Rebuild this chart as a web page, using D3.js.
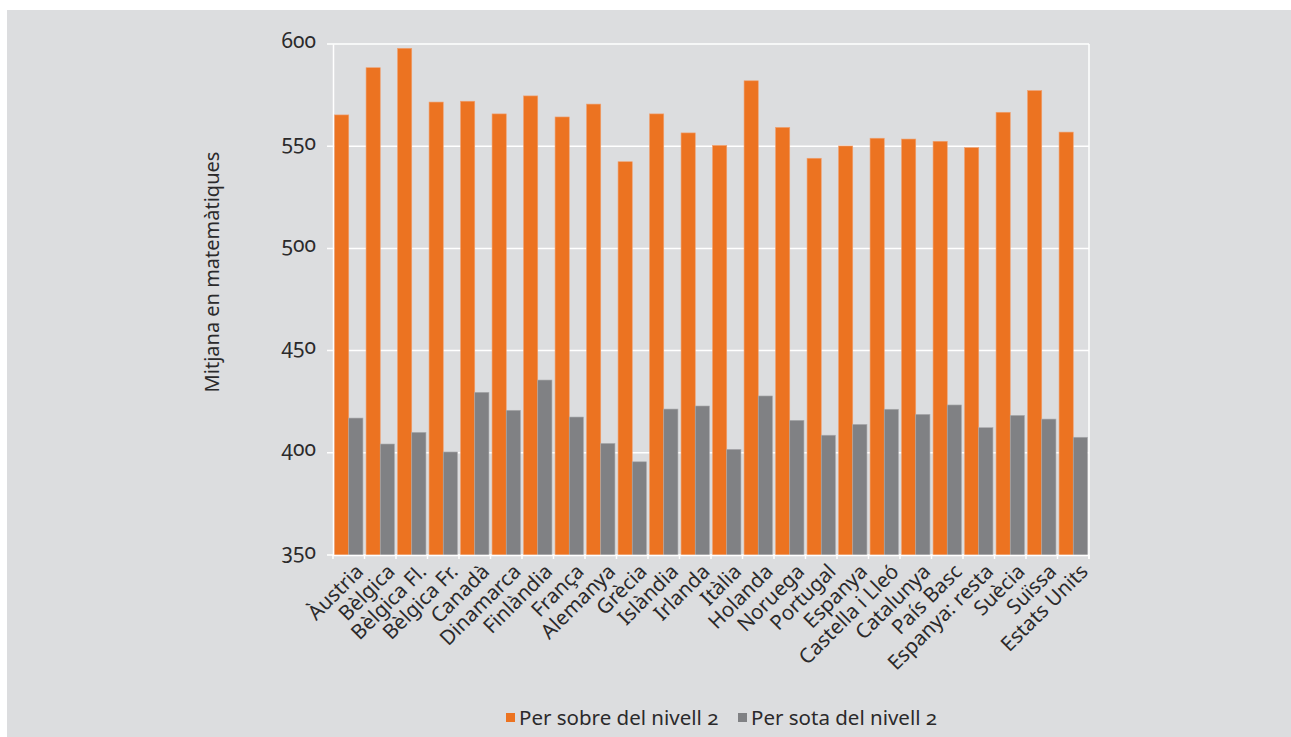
<!DOCTYPE html>
<html>
<head>
<meta charset="utf-8">
<script src="https://cdn.jsdelivr.net/npm/d3@7"></script>
<style>
  html, body { margin: 0; padding: 0; background: #fff; }
  svg text { font-family: "Noto Sans", "Open Sans", sans-serif; fill: #2b2a2b; font-feature-settings: "onum" 1; font-variant-numeric: oldstyle-nums; }
</style>
</head>
<body>
<svg id="chart" width="1291" height="737"></svg>
<script>
const categories = ["Àustria", "Bèlgica", "Bèlgica Fl.", "Bèlgica Fr.", "Canadà", "Dinamarca", "Finlàndia", "França", "Alemanya", "Grècia", "Islàndia", "Irlanda", "Itàlia", "Holanda", "Noruega", "Portugal", "Espanya", "Castella i Lleó", "Catalunya", "País Basc", "Espanya: resta", "Suècia", "Suïssa", "Estats Units"];
const above = [565.3, 588.4, 597.9, 571.6, 572.0, 565.8, 574.6, 564.3, 570.6, 542.4, 565.8, 556.5, 550.4, 582.0, 559.2, 544.1, 550.1, 553.9, 553.5, 552.4, 549.3, 566.6, 577.2, 556.9];
const below = [417.0, 404.3, 410.0, 400.4, 429.6, 420.8, 435.6, 417.5, 404.6, 395.6, 421.4, 422.9, 401.7, 427.8, 415.9, 408.6, 413.9, 421.3, 418.8, 423.4, 412.3, 418.3, 416.5, 407.6];
const seriesNames = ["Per sobre del nivell 2", "Per sota del nivell 2"];
const yTicks = [350, 400, 450, 500, 550, 600];
const colors = ["#ec7321", "#808184"];

const margin = { left: 333, right: 202, top: 44, bottom: 182 };
const width = 1291, height = 737;

const svg = d3.select("#chart");

// panel background
svg.append("rect")
  .attr("x", 7).attr("y", 10)
  .attr("width", width - 7).attr("height", height - 10)
  .attr("fill", "#dcdddf");

const x = d3.scaleBand()
  .domain(categories)
  .range([margin.left, width - margin.right])
  .paddingInner(0)
  .paddingOuter(0);

const xSub = d3.scaleBand()
  .domain([0, 1])
  .range([0, x.bandwidth()])
  .paddingOuter(0.11)
  .paddingInner(0);

const y = d3.scaleLinear()
  .domain([350, 600])
  .range([height - margin.bottom, margin.top]);

// gridlines
svg.append("g")
  .selectAll("line")
  .data(yTicks)
  .join("line")
  .attr("x1", margin.left - 6)
  .attr("x2", width - margin.right)
  .attr("y1", (d) => y(d))
  .attr("y2", (d) => y(d))
  .attr("stroke", "#ffffff")
  .attr("stroke-width", 1.5);

// right border
svg.append("line")
  .attr("x1", width - margin.right).attr("x2", width - margin.right)
  .attr("y1", y(600)).attr("y2", y(350) + 4)
  .attr("stroke", "#fff").attr("stroke-width", 1.5);

// y axis
const yAxis = svg.append("g")
  .attr("transform", "translate(" + margin.left + ",0)")
  .call(d3.axisLeft(y).tickValues(yTicks).tickSize(0).tickPadding(17));
yAxis.select(".domain").attr("stroke", "#fff").attr("stroke-width", 1.5);
yAxis.selectAll("text").style("font-size", "21px").attr("dy", "0.15em");

// bars
const groups = svg.append("g")
  .selectAll("g")
  .data(categories)
  .join("g")
  .attr("transform", (d) => "translate(" + x(d) + ",0)");

groups.selectAll("rect")
  .data((d, i) => [above[i], below[i]])
  .join("rect")
  .attr("x", (d, j) => xSub(j))
  .attr("width", xSub.bandwidth())
  .attr("y", (d) => y(d))
  .attr("height", (d) => y(350) - y(d))
  .attr("fill", (d, j) => colors[j])
  .attr("stroke", (d, j) => (j === 0 ? "#f0a070" : "#a9aaac"))
  .attr("stroke-width", 0.6);

// x axis
const xAxis = svg.append("g")
  .attr("transform", "translate(0," + y(350) + ")")
  .call(d3.axisBottom(x).tickSize(0).tickFormat(""));
xAxis.select(".domain").attr("stroke", "#fff").attr("stroke-width", 1.5);

// tick marks at band boundaries
svg.append("g")
  .selectAll("line")
  .data(categories.concat(["end"]))
  .join("line")
  .attr("x1", (d, i) => margin.left + i * x.bandwidth())
  .attr("x2", (d, i) => margin.left + i * x.bandwidth())
  .attr("y1", y(350))
  .attr("y2", y(350) + 4)
  .attr("stroke", "#fff")
  .attr("stroke-width", 1.5);

// rotated category labels
svg.append("g")
  .selectAll("text")
  .data(categories)
  .join("text")
  .attr("transform", (d) => "translate(" + (x(d) + x.bandwidth() / 2 + 5) + "," + (y(350) + 7) + ") rotate(-45)")
  .attr("text-anchor", "end")
  .attr("dy", "0.75em")
  .style("font-size", "20.5px")
  .text((d) => d);

// y axis title
svg.append("text")
  .attr("transform", "translate(219,272) rotate(-90)")
  .attr("text-anchor", "middle")
  .style("font-size", "20px")
  .text("Mitjana en matemàtiques");

// legend
const legend = svg.append("g").attr("transform", "translate(506,718)");
const legendX = [0, 232];
seriesNames.forEach((name, i) => {
  legend.append("rect")
    .attr("x", legendX[i]).attr("y", -5)
    .attr("width", 9).attr("height", 9)
    .attr("fill", colors[i]);
  legend.append("text")
    .attr("x", legendX[i] + 13).attr("y", 0)
    .attr("dy", "0.35em")
    .style("font-size", "20.5px")
    .text(name);
});
</script>
</body>
</html>
